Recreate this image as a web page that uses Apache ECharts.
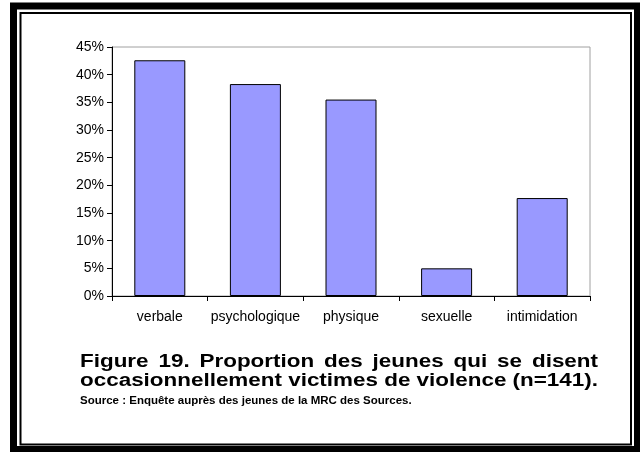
<!DOCTYPE html>
<html>
<head>
<meta charset="utf-8">
<script src="https://cdn.jsdelivr.net/npm/echarts@6/dist/echarts.min.js"></script>
<style>
  html, body { margin: 0; padding: 0; background: #fff; }
  #chart { width: 640px; height: 452px; }
</style>
</head>
<body>
<div id="chart"></div>
<script>
// données (n=141)
var categories = ["verbale", "psychologique", "physique", "sexuelle", "intimidation"];
var values = [0.426, 0.383, 0.355, 0.050, 0.177];
var yTicks = [0, 0.05, 0.10, 0.15, 0.20, 0.25, 0.30, 0.35, 0.40, 0.45];

var titleLines = [
  "Figure 19. Proportion des jeunes qui se disent",
  "occasionnellement victimes de violence (n=141)."
];
var sourceLine = "Source : Enquête auprès des jeunes de la MRC des Sources.";

var FONT = "'Liberation Sans', Arial, Helvetica, sans-serif";

var measureCtx = document.createElement("canvas").getContext("2d");
function textWidth(text, font) {
  measureCtx.font = font;
  return measureCtx.measureText(text).width;
}

// texte justifié (un élément par mot), légèrement étiré en largeur
function justify(text, font, sx, x0, x1, y) {
  var words = text.split(" ");
  var total = 0;
  words.forEach(function (w) { total += textWidth(w, font) * sx; });
  var gap = (x1 - x0 - total) / (words.length - 1);
  var x = x0;
  var out = [];
  words.forEach(function (w) {
    out.push({
      type: "text", x: x, y: y, scaleX: sx,
      style: { text: w, font: font, fill: "#000", verticalAlign: "middle" }
    });
    x += textWidth(w, font) * sx + gap;
  });
  return out;
}

var titleFont = "bold 18px " + FONT;
var titleLeft = 80, titleRight = 598;
var titleScale = (titleRight - titleLeft) / textWidth(titleLines[1], titleFont);

var graphics = [
  {
    type: "rect",
    shape: { x: 13.5, y: 6, width: 624, height: 443.5 },
    style: { fill: "none", stroke: "#000", lineWidth: 7 }
  },
  {
    type: "rect",
    shape: { x: 20.5, y: 13, width: 610.5, height: 431.5 },
    style: { fill: "none", stroke: "#000", lineWidth: 2 }
  },
  {
    type: "text", x: titleLeft, y: 401,
    style: { text: sourceLine, font: "bold 11.5px " + FONT, fill: "#000", verticalAlign: "middle" }
  }
]
  .concat(justify(titleLines[0], titleFont, titleScale, titleLeft, titleRight, 362))
  .concat(justify(titleLines[1], titleFont, titleScale, titleLeft, titleRight, 381));

var chart = echarts.init(document.getElementById("chart"));
chart.setOption({
  backgroundColor: "#fff",
  animation: false,
  grid: {
    left: 112,
    right: 50,
    top: 47,
    bottom: 156,
    show: true,
    borderColor: "#a0a0a0",
    borderWidth: 1
  },
  xAxis: {
    type: "category",
    data: categories,
    axisLine: { lineStyle: { color: "#000", width: 1 } },
    axisTick: { show: true, length: 5, alignWithLabel: false, lineStyle: { color: "#000" } },
    axisLabel: { interval: 0, margin: 14, fontSize: 14, color: "#000", fontFamily: FONT },
    splitLine: { show: false }
  },
  yAxis: {
    type: "value",
    min: 0,
    max: 0.45,
    interval: 0.05,
    axisLine: { show: true, lineStyle: { color: "#000", width: 1 } },
    axisTick: { show: true, length: 5, lineStyle: { color: "#000" } },
    axisLabel: {
      margin: 8,
      fontSize: 14,
      color: "#000",
      fontFamily: FONT,
      formatter: function (v) { return Math.round(v * 100) + "%"; }
    },
    splitLine: { show: false }
  },
  series: [
    {
      type: "bar",
      data: values,
      barWidth: 51,
      itemStyle: {
        color: "#9999ff",
        borderColor: "#000",
        borderWidth: 1
      }
    }
  ],
  graphic: graphics
});
</script>
</body>
</html>
